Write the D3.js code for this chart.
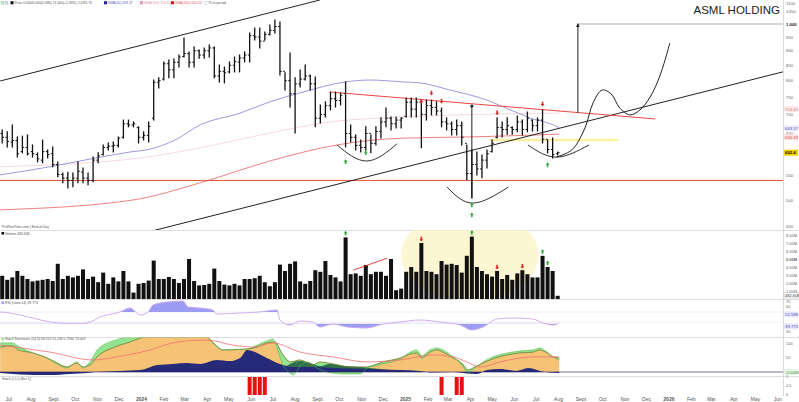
<!DOCTYPE html>
<html><head><meta charset="utf-8">
<script src="https://cdn.jsdelivr.net/npm/d3@7"></script>
<style>body{margin:0;background:#fff;}svg{display:block;font-family:'Liberation Sans',Arial,sans-serif;}</style>
</head><body><svg id="c" width="799" height="402"></svg>
<script>
// ---------- DATA (weekly bars, starting week of 2023-06-26) ----------
const highs=[659,654,672,641,643,646,621,602,633,609,616,581,556,558,556,581,567,556,592,602,621,626,628,641,685,685,680,667,654,680,802,809,861,868,871,885,946,896,913,903,910,921,913,851,844,861,878,885,896,965,984,984,969,996,1016,1008,825,892,809,834,851,818,812,727,736,765,765,762,796,672,646,633,667,646,667,691,718,693,693,691,747,747,747,741,741,741,736,718,691,680,685,680,621,609,604,597,609,633,691,680,691,667,696,685,707,685,691,713,633,638,604];
const lows=[626,616,616,592,602,597,592,581,579,590,570,548,535,524,527,535,535,531,537,579,597,609,604,616,638,667,667,626,633,628,685,777,802,809,809,844,878,844,844,874,874,878,809,796,793,825,828,828,861,861,939,910,939,958,965,818,771,721,651,780,802,771,667,677,693,713,721,727,616,628,609,604,609,602,621,638,667,659,664,664,693,693,693,614,685,699,699,667,659,646,646,621,541,504,552,546,567,604,638,641,648,648,654,646,654,656,656,626,602,590,597];
const opens=[650,640,628,632,605,615,605,598,585,605,600,575,553,545,540,545,558,545,540,585,598,615,618,620,640,675,672,665,640,645,690,795,805,855,835,860,880,890,860,900,885,900,910,815,830,828,850,860,875,885,955,950,935,960,975,990,830,800,760,790,805,815,790,690,700,725,745,740,760,650,640,620,615,650,625,655,680,690,675,685,695,735,715,735,700,725,720,710,680,675,660,670,625,555,575,565,585,605,640,665,660,665,660,680,660,685,670,685,635,610,600];
const closes=[640,630,632,600,615,600,600,588,605,598,575,553,545,540,545,560,545,540,585,595,615,618,620,638,675,672,675,640,645,668,795,800,855,835,860,878,890,860,900,885,900,910,815,830,825,850,862,875,885,955,950,935,960,975,990,830,800,760,790,805,815,790,690,700,725,745,740,755,650,640,620,615,650,625,655,680,690,675,685,690,735,715,735,700,725,720,710,680,675,660,670,640,555,575,565,585,600,625,665,660,670,660,680,660,690,670,685,635,610,598,602.4];
const volumesM=[2.9,2.4,2.7,3.5,2.9,2.5,2.2,2.3,2.4,2.5,2.25,4.4,2.5,2.9,2.7,2.9,3.7,2.5,2.8,2.1,3.3,1.9,2.7,2.2,3.5,2.2,0.8,1.9,2.0,2.3,4.8,2.5,2.5,2.75,2.5,2.0,2.5,5.0,2.25,1.7,1.75,1.9,3.8,2.25,1.8,1.7,1.9,1.7,2.5,2.5,2.6,2.9,2.1,1.6,2.1,4.3,3.5,4.4,4.7,2.2,1.9,2.25,3.6,3.4,4.75,3.0,2.7,2.2,7.7,3.1,3.2,2.9,4.25,3.1,3.4,3.4,2.9,5.0,1.1,1.3,3.4,4.0,3.4,7.0,3.5,3.4,3.1,4.75,4.3,4.4,4.25,3.3,5.4,7.8,4.0,3.5,3.1,2.8,3.5,2.5,3.0,2.4,3.2,3.6,3.1,2.7,2.7,5.4,4.0,3.5,0.4];
// moving averages [week, value]
const sma50=[[-0.4,552],[9.5,570],[19.4,592],[25.3,604],[29.3,611],[34.2,633],[39.2,672],[47.1,704],[53,736],[59.6,765],[67.9,796],[72.8,802],[79.4,796],[82.7,793],[88.7,771],[96,741],[100.6,713],[104.5,691],[109.9,667],[110.3,664]];
const sma100=[[-0.4,570],[27.3,590],[39.2,614],[53,651],[64.9,680],[78.8,693],[92.6,700],[110.3,704]];
const sma200=[[-0.4,481],[25.9,500],[39.2,535],[53,583],[66.3,621],[79.4,638],[92.6,641],[110.3,648]];
// RSI [week, value]
const rsi=[[-0.4,55],[1.5,54],[3.5,52],[6.1,49],[9.5,45],[11.5,44],[16,43.6],[17.4,45],[19.4,50],[23.3,55],[25.3,59],[27.3,52],[28.7,54],[29.9,62],[32.6,65],[35.8,66],[36.8,60],[39.2,59],[41.7,57],[42.5,53],[47.1,54],[51,55],[54.4,57],[55,47],[57,42],[59,46],[61.5,45],[62.9,40],[65.5,43],[68.3,40],[72.2,39],[75.4,43],[78.8,45],[82.7,47],[86.7,45],[90.7,42],[93,37],[95.2,40],[98,48],[101.2,49],[105.1,48],[107.1,44],[109.1,42],[110.3,44]];
const rsiUpper=55, rsiLower=43.5;
// Stochastic-type panel [week, value]
const stochSlow=[[-0.4,89],[2.1,93],[3.1,79],[6.1,68],[8.9,50],[10.5,36],[12.8,18],[14.8,32],[16,18],[17.4,25],[18.8,54],[20,71],[21.9,86],[23.3,96],[25.3,107],[27.3,121],[28.7,125],[40.6,125],[41.7,104],[43.7,79],[48.5,82],[50.5,89],[52.4,104],[54,107],[55.6,61],[57,36],[59,43],[61.5,25],[62.9,36],[65.5,29],[68.9,18],[72.2,18],[75.4,36],[78.8,50],[80.8,64],[82.1,68],[83.1,50],[84.7,71],[86.1,79],[87.3,71],[89.3,50],[91,32],[92.2,7],[93.2,14],[95.2,32],[97.6,50],[100,61],[102.5,68],[105.1,71],[106.5,79],[107.9,68],[109.1,54],[110.3,50]];
const stochFast=[[-0.4,104],[2.1,104],[3.1,93],[6.1,68],[8.9,50],[10.5,32],[12.8,14],[14.8,36],[16,14],[17.4,36],[18.8,79],[20,96],[21.9,111],[23.9,121],[25.3,125],[40.6,125],[41.7,107],[43.7,79],[48.5,82],[50.5,96],[52.4,111],[53.6,118],[55.6,25],[57,-4],[57.6,-11],[59,21],[60.4,36],[62.3,14],[64.3,0],[67.5,-7],[70.9,-7],[72.2,14],[75.4,29],[78.8,46],[80.8,71],[82.1,79],[83.1,57],[84.7,79],[86.1,86],[87.3,79],[89.3,54],[91,25],[92.2,-4],[93.2,7],[95.2,36],[97.6,57],[100,68],[102.5,75],[105.1,79],[106.5,86],[107.9,71],[109.1,54],[110.3,43]];
const stochSignal=[[-0.4,96],[9.5,71],[18,43],[22.7,54],[29.3,79],[33.8,104],[36.6,111],[40.6,114],[45.7,96],[49.7,89],[53.6,104],[59,71],[65.5,54],[72.2,36],[78.8,43],[85.3,61],[89.3,54],[92,36],[94.6,18],[98.6,36],[105.1,54],[110.3,54]];
const momentum=[[-0.4,-4],[3.5,-9],[9.5,-11],[13.4,-7],[16.8,-4],[18.4,0],[23.3,4],[27.3,7],[30.7,25],[33.8,29],[36.6,32],[39.2,29],[42.5,43],[45.1,39],[47.1,50],[48.5,79],[50.5,68],[52.4,50],[55,29],[57.6,18],[62,18],[65.5,14],[72.2,11],[78.8,7],[82.7,4],[85.3,-2],[89.3,0],[92,-5],[94,-7],[96,7],[98.6,11],[101.9,4],[104.1,14],[106.5,4],[108.5,-2],[110.3,-4]];
const momentumDown=[[55.6,14],[57,29],[59,39],[61,32],[62.9,21],[64.9,29],[67.9,21],[70.9,18],[74.8,11],[78.4,4]];
const signalBars=[49,50,51,52,87,90,91];
// signal markers
const priceMarkers=[[68,581,'g'],[72,602,'g'],[93,490,'g'],[93,471,'g'],[108,574,'g'],[83,738,'r'],[85,762,'r'],[87,738,'r'],[98,705,'r'],[107,730,'r']];
const volMarkers=[[68,'g'],[93,'g'],[107,'g'],[108,'g'],[83,'r'],[98,'r'],[103,'r']];
// drawn annotations [week, value]
const channelTop=[[-0.4,799],[62.9,1099]];
const channelBottom=[[30.3,444],[156,834]];
const redTrend=[[64.9,765],[129.3,688]];
const cups=[[[66.3,621],[72.2,583],[78.2,624]],[[88.1,526],[93.2,494],[100.2,526]],[[104.1,621],[109.7,592],[116.2,621]]];
const projection=[[109.7,592],[112.8,609],[115.4,664],[117,733],[118.8,771],[120.6,759],[122.3,718],[124.3,699],[126.3,713],[128.3,750],[130.3,818],[132.2,928]];
const measureLine=[[93,504],[93,724]];
const targetLine=[[114,705],[114,1000]];
const targetLevel=1000;
const supportLevel=540;
const yellowLevel=[[96.6,633],[121.9,633]];
const volTrend=[[69.5,3.6],[76.2,5.1]];
const priceTicks=[1100,1050,1000,950,900,850,800,750,700,650,550,500,450];
const volTicks=[1,2,3,4,5,6,7,8];
const monthNames=["2024","Feb","Mar","Apr","May","Jun","Jul","Aug","Sept","Oct","Nov","Dec"];

// ---------- SCALES ----------
const svg=d3.select('#c');
const PR=783;
const start=new Date(2023,5,26);
const wDate=w=>new Date(start.getTime()+w*7*864e5);
const x=d3.scaleTime().domain([start,new Date(2026,5,26)]).range([2.2,2.2+1096*5.05/7]);
const xw=w=>x(wDate(w));
const yP=d3.scaleLog().domain([1000,500]).range([24,200]);
const yV=d3.scaleLinear().domain([0,8]).range([299,235]);
const yR=d3.scaleLinear().domain([45,55]).range([322,312]);
const yS=d3.scaleLinear().domain([0,100]).range([372,344]);
const yB=d3.scaleLinear().domain([0,1]).range([395,377]);

const defs=svg.append('defs');
function clip(id,y0,y1){defs.append('clipPath').attr('id',id).append('rect').attr('x',0).attr('y',y0).attr('width',PR).attr('height',y1-y0);}
clip('cp',0,230);clip('cv',230.5,299.5);clip('cr',300,337);clip('cs',337.5,376);clip('cb',376.5,396);
clip('cra',300,yR(rsiUpper));clip('crb',yR(rsiLower),337);

// ---------- PANEL FRAMES ----------
[230.5,299.5,337.5,376.5].forEach(y=>svg.append('line').attr('x1',0).attr('x2',799).attr('y1',y).attr('y2',y).attr('stroke','#d4d4d4').attr('stroke-width',0.8));
svg.append('line').attr('x1',PR+0.5).attr('x2',PR+0.5).attr('y1',0).attr('y2',396).attr('stroke','#d0d0d0').attr('stroke-width',0.8);

// ---------- PRICE PANEL ----------
const gp=svg.append('g').attr('clip-path','url(#cp)');
const lineP=d3.line().x(d=>xw(d[0])).y(d=>yP(d[1]));
gp.append('path').attr('d',lineP.curve(d3.curveMonotoneX)(sma200)).attr('fill','none').attr('stroke','#f08080').attr('stroke-width',1);
gp.append('path').attr('d',lineP.curve(d3.curveMonotoneX)(sma100)).attr('fill','none').attr('stroke','#f8d4dc').attr('stroke-width',0.9);
gp.append('path').attr('d',lineP.curve(d3.curveMonotoneX)(sma50)).attr('fill','none').attr('stroke','#9a9ae0').attr('stroke-width',1);
lineP.curve(d3.curveLinear);
gp.append('line').attr('x1',0).attr('x2',PR).attr('y1',yP(supportLevel)).attr('y2',yP(supportLevel)).attr('stroke','#e8533a').attr('stroke-width',1);
gp.append('path').attr('d',lineP(yellowLevel)).attr('stroke','#fbf0a0').attr('stroke-width',2.5);
gp.append('path').attr('d',lineP(channelTop)).attr('stroke','#222').attr('stroke-width',1);
gp.append('path').attr('d',lineP(channelBottom)).attr('stroke','#222').attr('stroke-width',1);
gp.append('path').attr('d',lineP(redTrend)).attr('stroke','#ee4444').attr('stroke-width',1);
gp.append('line').attr('x1',xw(targetLine[0][0])).attr('x2',PR).attr('y1',yP(targetLevel)).attr('y2',yP(targetLevel)).attr('stroke','#999').attr('stroke-width',0.8);
const curveP=d3.line().x(d=>xw(d[0])).y(d=>yP(d[1])).curve(d3.curveNatural);
cups.forEach(c=>gp.append('path').attr('d',curveP(c)).attr('fill','none').attr('stroke','#333').attr('stroke-width',1));
gp.append('path').attr('d',d3.line().x(d=>xw(d[0])).y(d=>yP(d[1])).curve(d3.curveCatmullRom)(projection)).attr('fill','none').attr('stroke','#222').attr('stroke-width',1);
// measured move
gp.append('path').attr('d',lineP(measureLine)).attr('stroke','#222').attr('stroke-width',1);
gp.append('circle').attr('cx',xw(measureLine[1][0])).attr('cy',yP(measureLine[1][1])).attr('r',1.6).attr('fill','#222');
gp.append('path').attr('d',lineP(targetLine)).attr('stroke','#222').attr('stroke-width',1);
{const tx=xw(targetLine[1][0]),ty=yP(targetLine[1][1]);gp.append('path').attr('d',`M${tx},${ty-1}L${tx+1.8},${ty+3}L${tx-1.8},${ty+3}Z`).attr('fill','#222');}
// OHLC bars
const bars=gp.append('g').attr('stroke','#111').attr('stroke-width',1.3);
highs.forEach((h,i)=>{const cx=xw(i);
 bars.append('line').attr('x1',cx).attr('x2',cx).attr('y1',yP(h)-0.5).attr('y2',yP(lows[i])+0.5);
 bars.append('line').attr('x1',cx-1.8).attr('x2',cx).attr('y1',yP(opens[i])).attr('y2',yP(opens[i])).attr('stroke-width',1);
 bars.append('line').attr('x1',cx).attr('x2',cx+1.8).attr('y1',yP(closes[i])).attr('y2',yP(closes[i])).attr('stroke-width',1);
});
function arrow(g,cx,cy,dir,col){const s=dir; // s=1 up, -1 down
 g.append('path').attr('d',`M${cx},${cy-2.6*s}L${cx+1.9},${cy-0.2*s}L${cx+0.8},${cy-0.2*s}L${cx+0.8},${cy+2.2*s}L${cx-0.8},${cy+2.2*s}L${cx-0.8},${cy-0.2*s}L${cx-1.9},${cy-0.2*s}Z`).attr('fill',col);}
priceMarkers.forEach(m=>arrow(gp,xw(m[0]),yP(m[1]),m[2]==='g'?1:-1,m[2]==='g'?'#2eaa3c':'#e02424'));

// price axis
const ax=svg.append('g').attr('font-size','4.3px').attr('fill','#666');
priceTicks.forEach(v=>ax.append('text').attr('x',786).attr('y',Math.max(yP(v)+1.5,4.5)).text(v===1000?'1,000':v).attr('font-weight',v===1000?'bold':'normal').attr('fill',v===1000?'#222':'#666'));
function vbox(val,txt,tcol,bcol,bold){const y=val;svg.append('rect').attr('x',784).attr('y',y-3).attr('width',14).attr('height',6).attr('fill',bcol);
 svg.append('text').attr('x',785).attr('y',y+1.6).attr('font-size','4.3px').attr('fill',tcol).attr('font-weight',bold?'bold':'normal').text(txt);}
vbox(yP(704.43)-4,'704.43','#e07a7a','#fdeaea');
vbox(yP(663.37),'663.37','#5555cc','#ececfb');
vbox(yP(650.33)+4,'650.33','#e04040','#fde4e4');
vbox(yP(602.4),'602.4','#111','#f5d000',true);

// title + legends
svg.append('text').attr('x',780).attr('y',13.5).attr('text-anchor','end').attr('font-size','11.5px').attr('fill','#222').text('ASML HOLDING');
const lg=svg.append('g').attr('font-size','3.4px');
function legItem(xx,col,txt,tcol){lg.append('rect').attr('x',xx).attr('y',1.2).attr('width',3).attr('height',3).attr('fill',col).attr('stroke','#888').attr('stroke-width',0.2);lg.append('text').attr('x',xx+4).attr('y',4).attr('fill',tcol||'#555').text(txt);}
legItem(1,'#bfe8c8','',null);legItem(5,'#cce0f0','',null);
legItem(10.5,'#111','Price 0.000/0.000(0.380) 11.000(+1.39%) 2.03%  75','#555');
legItem(104,'#1a1aa0','SMA(50) 663.37','#6060c0');
legItem(140,'#f2a0b8','SMA(100) 704.43','#e090a8');
legItem(171,'#e01010','SMA(200) 650.33','#e06060');
legItem(204,'#fff','75 et period','#555');
svg.append('text').attr('x',2).attr('y',228).attr('font-size','3.4px').attr('fill','#555').text('ProRealTime.com | End-of-Day');

// ---------- VOLUME PANEL ----------
const gv=svg.append('g').attr('clip-path','url(#cv)');
{const c=92.6,cy=5.5;gv.append('ellipse').attr('cx',xw(c)).attr('cy',yV(cy)).attr('rx',xw(c+13.6)-xw(c)).attr('ry',yV(0)-yV(5.7)).attr('fill','#fdf6d2');}
volumesM.forEach((v,i)=>gv.append('rect').attr('x',xw(i)-2).attr('width',4).attr('y',yV(v)).attr('height',yV(0)-yV(v)).attr('fill','#111'));
gv.append('path').attr('d',d3.line().x(d=>xw(d[0])).y(d=>yV(d[1]))(volTrend)).attr('stroke','#e83030').attr('stroke-width',0.9);
volMarkers.forEach(m=>arrow(gv,xw(m[0]),yV(volumesM[m[0]]+0.5),m[1]==='g'?1:-1,m[1]==='g'?'#2eaa3c':'#e02424'));
svg.append('rect').attr('x',1.5).attr('y',232).attr('width',2.6).attr('height',2.6).attr('fill','#111');
svg.append('text').attr('x',5).attr('y',234.6).attr('font-size','3.4px').attr('fill','#555').text('Volume 482,608');
volTicks.forEach(v=>svg.append('text').attr('x',786).attr('y',yV(v)+1.5).attr('font-size','4px').attr('fill','#666').attr('font-weight',v===5?'bold':'normal').text(v.toFixed(2)+'M'));
svg.append('rect').attr('x',784).attr('y',yV(0.45)-2.8).attr('width',14).attr('height',5.4).attr('fill','#fff').attr('stroke','#aaa').attr('stroke-width',0.4);
svg.append('text').attr('x',785).attr('y',yV(0.45)+1.4).attr('font-size','4px').attr('fill','#333').text('482,608');

// ---------- RSI PANEL ----------
const gr=svg.append('g').attr('clip-path','url(#cr)');
const rline=d3.line().x(d=>xw(d[0])).y(d=>yR(d[1])).curve(d3.curveMonotoneX);
gr.append('line').attr('x1',0).attr('x2',PR).attr('y1',yR(rsiUpper)).attr('y2',yR(rsiUpper)).attr('stroke','#ece4f6').attr('stroke-width',0.8);
gr.append('line').attr('x1',0).attr('x2',PR).attr('y1',yR(45)).attr('y2',yR(45)).attr('stroke','#ece4f6').attr('stroke-width',0.8);
const ra=d3.area().x(d=>xw(d[0])).y1(d=>yR(d[1])).curve(d3.curveMonotoneX);
gr.append('path').attr('clip-path','url(#cra)').attr('d',ra.y0(yR(rsiUpper))(rsi)).attr('fill','#9c9cf2');
gr.append('path').attr('clip-path','url(#crb)').attr('d',ra.y0(yR(rsiLower))(rsi)).attr('fill','#9c9cf2');
gr.append('path').attr('d',rline(rsi)).attr('fill','none').attr('stroke','#c9a6ee').attr('stroke-width',0.9);
svg.append('rect').attr('x',1.5).attr('y',301.5).attr('width',2.6).attr('height',2.6).attr('fill','#9c9cf2');
svg.append('text').attr('x',5).attr('y',304).attr('font-size','3.4px').attr('fill','#555').text('RSI (close,14) 39.773');
[[70,302],[60,307]].forEach(t=>svg.append('text').attr('x',786).attr('y',t[1]+1.4).attr('font-size','4px').attr('fill','#666').text(t[0]));
vbox(yR(52.6),'52.588','#5555cc','#e8e8fb');
vbox(yR(39.8)-1,'39.773','#5555cc','#e8e8fb');
svg.append('text').attr('x',786).attr('y',332.5).attr('font-size','4px').attr('fill','#666').text('30');

// ---------- STOCHASTIC PANEL ----------
const gs=svg.append('g').attr('clip-path','url(#cs)');
const sA=d3.area().x(d=>xw(d[0])).curve(d3.curveMonotoneX);
gs.append('path').attr('d',sA.y0(yS(0)).y1(d=>yS(d[1]))(stochSlow)).attr('fill','#f6c376');
const interp=(arr,w)=>{for(let k=1;k<arr.length;k++){if(arr[k][0]>=w){const a=arr[k-1],b=arr[k];return a[1]+(b[1]-a[1])*(w-a[0])/(b[0]-a[0]);}}return arr[arr.length-1][1];};
const bandPts=Array.from(new Set(stochSlow.map(d=>d[0]).concat(stochFast.map(d=>d[0])))).sort((a,b)=>a-b);
gs.append('path').attr('d',d3.area().x(d=>xw(d)).y0(d=>yS(interp(stochSlow,d))).y1(d=>yS(interp(stochFast,d)))(bandPts)).attr('fill','#93e48f');
gs.append('path').attr('d',sA.y0(yS(0)).y1(d=>yS(d[1]))(momentumDown)).attr('fill','#2f6e4a');
gs.append('path').attr('d',sA.y0(yS(0)).y1(d=>yS(d[1]))(momentum)).attr('fill','#262a78');
const sL=d3.line().x(d=>xw(d[0])).y(d=>yS(d[1])).curve(d3.curveMonotoneX);
gs.append('path').attr('d',sL(stochSlow)).attr('fill','none').attr('stroke','#6d7a2c').attr('stroke-width',0.8);
gs.append('path').attr('d',sL(stochFast)).attr('fill','none').attr('stroke','#55b84c').attr('stroke-width',0.6);
gs.append('path').attr('d',sL(stochSignal)).attr('fill','none').attr('stroke','#f07070').attr('stroke-width',0.8);
gs.append('line').attr('x1',0).attr('x2',PR).attr('y1',yS(0)).attr('y2',yS(0)).attr('stroke','#1a1a60').attr('stroke-width',0.6);
svg.append('rect').attr('x',1.5).attr('y',337.8).attr('width',2.6).attr('height',2.6).attr('fill','#93e48f');
svg.append('text').attr('x',5).attr('y',340.3).attr('font-size','3.4px').attr('fill','#555').text('Stoch Stochastic (14,3)    83.155    51.230  0.7564  73.004');
[[100,100],[50,50]].forEach(t=>svg.append('text').attr('x',786).attr('y',yS(t[0])+1.4).attr('font-size','4px').attr('fill','#666').text(t[1]));
vbox(yS(0),'-0.0066','#3a8a3a','#e6f6e6');

// ---------- SIGNAL PANEL ----------
const gb=svg.append('g').attr('clip-path','url(#cb)');
signalBars.forEach(i=>gb.append('rect').attr('x',xw(i)-2).attr('width',4).attr('y',yB(1)).attr('height',yB(0)-yB(1)).attr('fill','#e81010'));
svg.append('text').attr('x',2).attr('y',379.5).attr('font-size','3.4px').attr('fill','#555').text('Stoch (t,5,t) (Bar 1)');
[[1,'1'],[0.5,'0.5'],[0,'0']].forEach(t=>svg.append('text').attr('x',786).attr('y',yB(t[0])+1.4).attr('font-size','4px').attr('fill','#666').text(t[1]));

// ---------- X AXIS ----------
const months=d3.timeMonth.range(new Date(2023,6,1),new Date(2026,6,1));
const xa=svg.append('g').attr('font-size','5px').attr('fill','#555').attr('text-anchor','middle');
months.forEach(m=>{const px=x(m)+3;if(px>790)return;
 const mi=m.getMonth();const label=mi===0?String(m.getFullYear()):monthNames[mi];
 xa.append('text').attr('x',px).attr('y',401.2).attr('font-weight',mi===0?'bold':'normal').text(label);});
</script></body></html>
